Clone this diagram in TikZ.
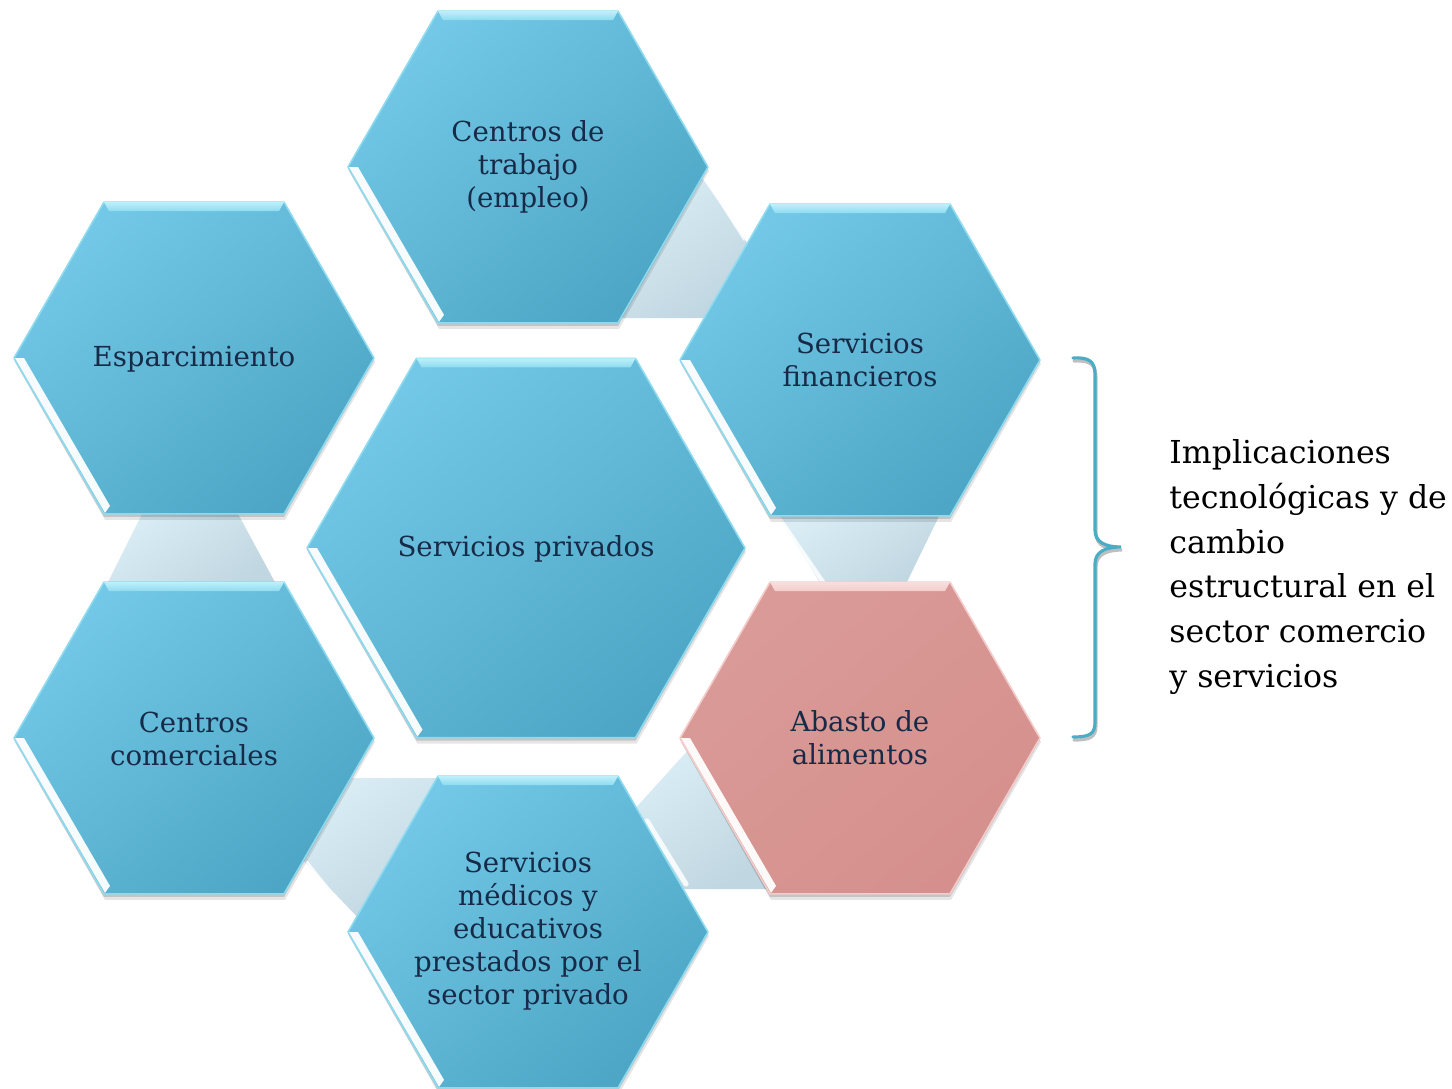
\documentclass[tikz,border=0pt]{standalone}
\usepackage{fontspec}
\setmainfont{DejaVu Serif}
\definecolor{hexlight}{HTML}{72C8E6}
\definecolor{hexdark}{HTML}{4DA6C5}
\definecolor{hexedge}{HTML}{8EDBF0}
\definecolor{bevtop}{HTML}{BDF0FA}
\definecolor{pinklight}{HTML}{DA9B98}
\definecolor{pinkdark}{HTML}{D5908D}
\definecolor{pinkedge}{HTML}{F3CDCB}
\definecolor{pinktop}{HTML}{F8DEDD}
\definecolor{conlight}{HTML}{DAEDF5}
\definecolor{condark}{HTML}{C0D6E0}
\definecolor{txtcol}{HTML}{172A47}
\definecolor{bracecol}{HTML}{4BACC6}
\newcommand\hexcell[7]{% cx cy R light dark edge top
  \pgfmathsetmacro\hxa{#3/2}\pgfmathsetmacro\hxb{#3*0.8660254}%
  \fill[black,opacity=0.10] ({#1+#3+1},{#2+4}) -- ({#1+\hxa+1},{#2-\hxb+4}) -- ({#1-\hxa+1},{#2-\hxb+4}) -- ({#1-#3+1},{#2+4}) -- ({#1-\hxa+1},{#2+\hxb+6}) -- ({#1+\hxa+1},{#2+\hxb+6}) -- cycle;
  \fill[black,opacity=0.14] ({#1+#3},{#2+2}) -- ({#1+\hxa},{#2-\hxb+2}) -- ({#1-\hxa},{#2-\hxb+2}) -- ({#1-#3},{#2+2}) -- ({#1-\hxa},{#2+\hxb+3}) -- ({#1+\hxa},{#2+\hxb+3}) -- cycle;
  \shade[top color=#4,bottom color=#5,shading angle=40,draw=#6,line width=0.8pt,line join=round] ({#1+#3},#2) -- ({#1+\hxa},{#2-\hxb}) -- ({#1-\hxa},{#2-\hxb}) -- ({#1-#3},#2) -- ({#1-\hxa},{#2+\hxb}) -- ({#1+\hxa},{#2+\hxb}) -- cycle;
  \shade[top color=#7,bottom color=#6] ({#1-\hxa},{#2-\hxb}) -- ({#1+\hxa},{#2-\hxb}) -- ({#1+\hxa-5},{#2-\hxb+9}) -- ({#1-\hxa+5},{#2-\hxb+9}) -- cycle;
  \fill[white,opacity=0.95] ({#1-#3+1},{#2}) -- ({#1-#3+10},{#2}) -- ({#1-\hxa+6},{#2+\hxb-8}) -- ({#1-\hxa+1},{#2+\hxb-1}) -- cycle;
}
\tikzset{
  hextext/.style={font=\fontsize{13.8}{16.5}\selectfont, text=txtcol, align=center, inner sep=0pt},
  conshade/.style={top color=conlight, bottom color=condark, shading angle=35},
  conhi/.style={white, opacity=0.85, line cap=round},
  sidetext/.style={font=\fontsize{15.8}{22.4}\selectfont, text=black, align=left, inner sep=0pt, anchor=north west}
}
\begin{document}
\begin{tikzpicture}[x=0.5pt,y=-0.5pt]
\fill[white] (0,0) rectangle (1452,1088);
\useasboundingbox (0,0) rectangle (1452,1088);
% connectors (behind)
\shade[conshade] (698,172) -- (752,250) -- (706,318) -- (614,318) -- cycle;
\draw[conhi, line width=0.8pt] (706,180) -- (744,240);
\shade[conshade] (143,512) -- (237,512) -- (277,586) -- (106,586) -- cycle;
\shade[conshade] (776,512) -- (941,512) -- (905,586) -- (822,586) -- cycle;
\draw[conhi, line width=2.2pt] (779,518) -- (823,582);
\shade[conshade] (344,778) -- (440,778) -- (365,925) -- (300,857) -- cycle;
\draw[conhi, line width=1.2pt] (307,862) -- (352,918);
\shade[conshade] (690,748) -- (632,812) -- (680,889) -- (770,889) -- cycle;
\draw[conhi, line width=2.6pt] (647,821) -- (686,884);
% hexagons
\hexcell{528}{167}{180}{hexlight}{hexdark}{hexedge}{bevtop}
\hexcell{194}{358}{180}{hexlight}{hexdark}{hexedge}{bevtop}
\hexcell{860}{360}{180}{hexlight}{hexdark}{hexedge}{bevtop}
\hexcell{526}{548}{219}{hexlight}{hexdark}{hexedge}{bevtop}
\hexcell{194}{738}{180}{hexlight}{hexdark}{hexedge}{bevtop}
\hexcell{860}{738}{180}{pinklight}{pinkdark}{pinkedge}{pinktop}
\hexcell{528}{932}{180}{hexlight}{hexdark}{hexedge}{bevtop}
% texts
\node[hextext] (trabajo) at (528,167) {Centros de\\trabajo\\(empleo)};
\node[hextext] (espar) at (194,359) {Esparcimiento};
\node[hextext] (financ) at (860,360) {Servicios\\financieros};
\node[hextext] (privados) at (526,549) {Servicios privados};
\node[hextext] (comerc) at (194,739) {Centros\\comerciales};
\node[hextext] (abasto) at (860,738) {Abasto de\\alimentos};
\node[hextext] (medicos) at (528,931) {Servicios\\médicos y\\educativos\\prestados por el\\sector privado};
% brace
\coordinate (btop) at (1073,358);
\coordinate (btip) at (1121,547);
\coordinate (bbot) at (1073,737);
\draw[black!25, line width=1.6pt, line cap=round] ([shift={(1,3)}]btop) .. controls (1091,360) and (1096,365) .. (1096,378) -- (1096,533) .. controls (1096,545) and (1106,550) .. ([shift={(1,3)}]btip) .. controls (1106,550) and (1096,555) .. (1096,567) -- (1096,725) .. controls (1096,737) and (1091,740) .. ([shift={(1,3)}]bbot);
\draw[bracecol, line width=1.6pt, line cap=round] (btop) .. controls (1090,357) and (1095,362) .. (1095,375) -- (1095,530) .. controls (1095,542) and (1105,547) .. (btip) .. controls (1105,547) and (1095,552) .. (1095,564) -- (1095,722) .. controls (1095,734) and (1090,737) .. (bbot);
\node[sidetext] (impl) at (1169,439) {Implicaciones\\tecnológicas y de\\cambio\\estructural en el\\sector comercio\\y servicios};
\end{tikzpicture}
\end{document}
